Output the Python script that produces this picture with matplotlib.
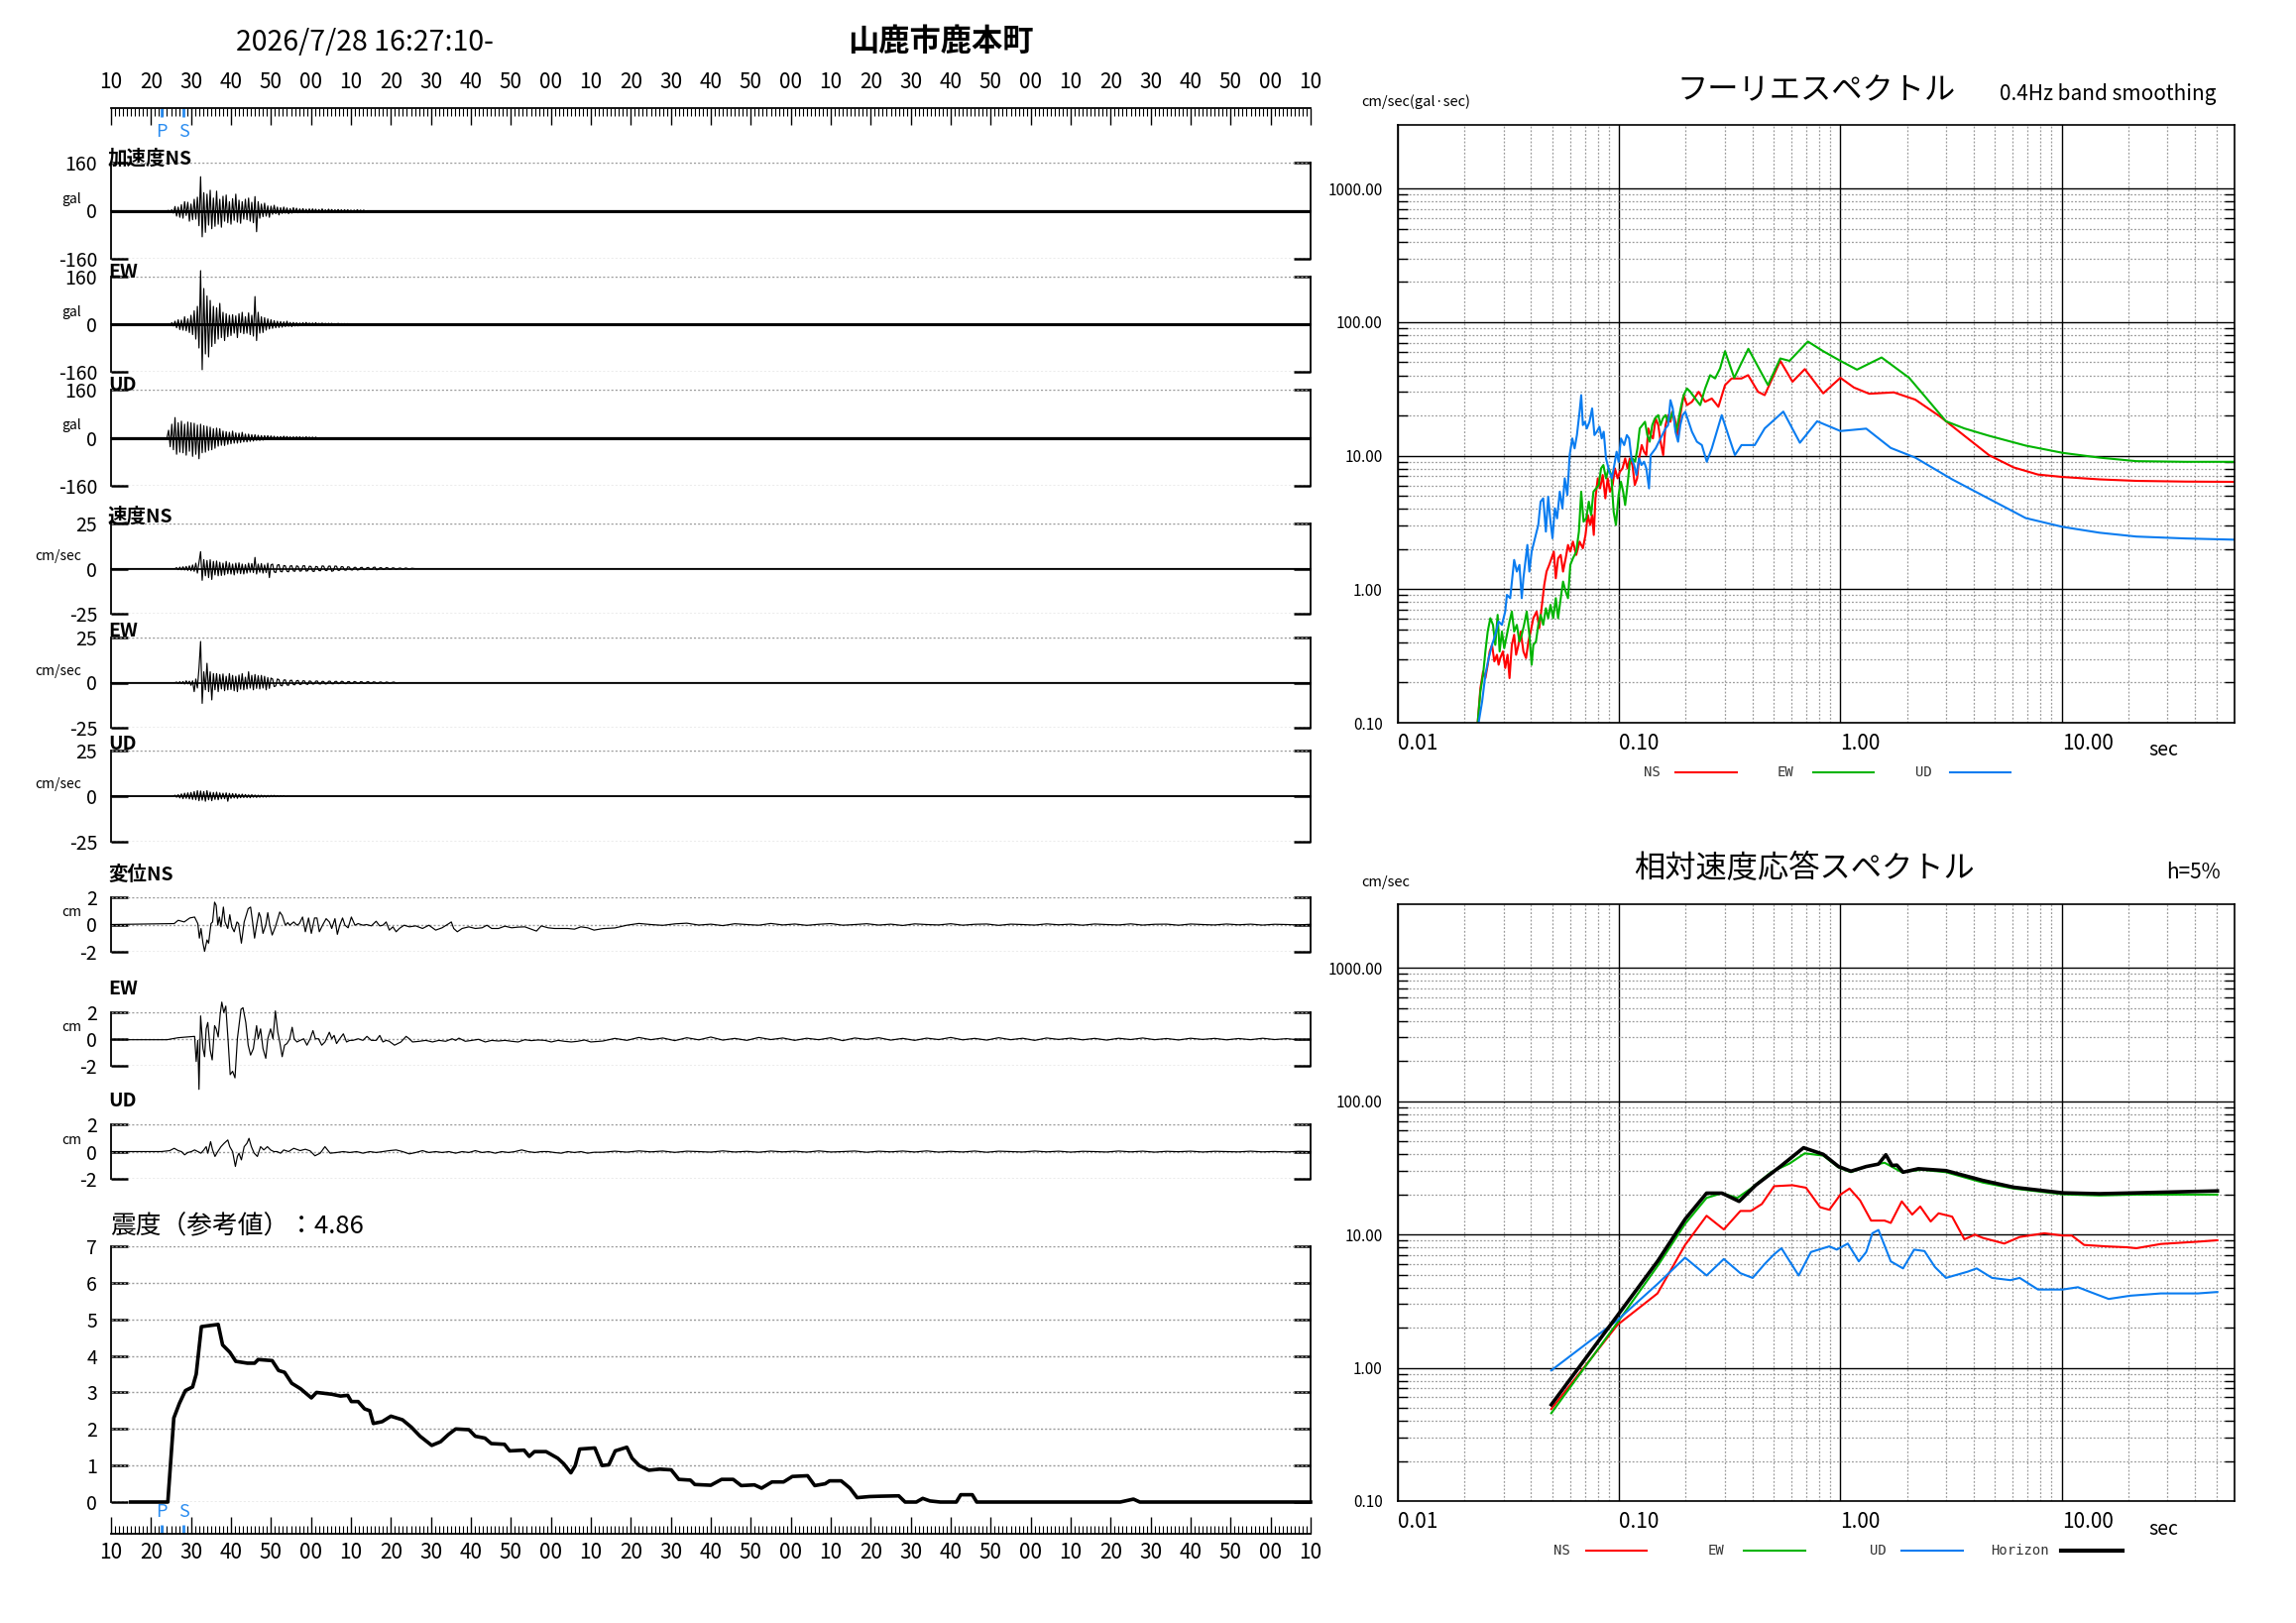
import numpy as np
import matplotlib
matplotlib.use("Agg")
import matplotlib.pyplot as plt
from matplotlib.lines import Line2D
from matplotlib.ticker import MultipleLocator, FuncFormatter, FixedLocator, NullFormatter

plt.rcParams['font.family'] = ['Noto Sans CJK JP', 'DejaVu Sans']

W, H = 2316, 1637

# ---------------- data ----------------
date_text = "2026/7/28 16:27:10-"
station = "山鹿市鹿本町"
start_sec = 10          # 16:27:10
p_time, s_time = 12.7, 18.2
shindo = 4.86

# acceleration (gal), sampled every 0.4 s from t0
acc_t0, acc_dt = 14.0, 0.4
acc_ns = [0, 1, -2, 3, -8, 14, -18, 12, -22, 20, -25, 30, -16, 28, -35,
          22, -30, 38, -28, 45, -50, 113, -87, 60, -72, 55, -48, 68, -60, 42,
          -52, 65, -45, 38, -55, 48, -35, 52, -40, 30, -45, 40, -32, 55, -38,
          35, -42, 30, -28, 38, -30, 42, -35, 28, -40, 47, -70, 30, -25, 22,
          -20, 25, -18, 16, -22, 15, -12, 18, -10, 12, -14, 10, -9, 12, -8,
          9, -10, 7, -8, 10, -6, 8, -7, 6, -5, 7, -6, 5, -7, 6,
          -5, 6, -4, 5, -6, 4, -5, 6, -4, 3, -4, 5, -3, 4, -4,
          3, -3, 4, -3, 3, -3, 3, -2, 3, -2, 2, -3, 2, -2, 3,
          -2, 2, -2, 2, -2]
acc_ew = [0, 2, -3, 5, -6, 10, -12, 15, -18, 14, -20, 25, -22, 18, -28,
          30, -35, 45, -50, 60, -80, 180, -153, 120, -100, 95, -110, 80, -75, 60,
          -65, 55, -50, 70, -45, 40, -55, 35, -42, 30, -38, 32, -30, 28, -45,
          35, -28, 40, -32, 25, -30, 38, -35, 30, -40, 93, -55, 40, -30, 25,
          -28, 22, -20, 18, -16, 15, -14, 12, -12, 10, -11, 9, -10, 8, -8,
          10, -7, 6, -8, 6, -6, 5, -6, 4, -5, 5, -4, 6, -4, 4,
          -4, 4, -3, 5, -3, 3, -3, 4, -3, 3, -3, 3, -2, 3, -2,
          2, -2, 3, -2, 2, -2, 2, -2, 2, -2]
acc_ud = [0, 25, -30, 45, -40, 67, -55, 50, -48, 55, -50, 45, -58, 52, -45,
          50, -62, 48, -55, 42, -70, 45, -50, 40, -48, 38, -42, 35, -40, 30,
          -35, 32, -28, 30, -25, 22, -26, 20, -22, 18, -20, 22, -18, 16, -18,
          15, -16, 18, -14, 12, -14, 12, -12, 10, -11, 10, -9, 8, -9, 7,
          -8, 7, -6, 7, -6, 6, -5, 5, -6, 4, -5, 4, -4, 5, -3,
          4, -3, 3, -4, 3, -3, 3, -2, 3, -2, 2, -2, 3, -2, 2,
          -2, 2, -2, 2, -2]

# velocity (cm/sec), sampled every 0.4 s from t0
vel_t0, vel_dt = 16.0, 0.4
vel_ns = [0, 0.5, -0.6, 0.8, -0.7, 1.0, -0.8, 1.2, -1.0, 1.5,
          -1.2, 2.0, -1.5, 3.0, -2.5, 3.5, 9.4, -6.5, 5.0, -4.0,
          4.5, -5.0, 4.9, -6.0, 4.0, -3.5, 4.2, -4.0, 3.5, -3.8,
          3.0, -3.5, 4.0, -2.8, 3.2, -3.0, 2.5, -3.5, 3.0, -2.5,
          3.2, -2.8, 2.5, -3.0, 2.2, -2.5, 3.0, -2.0, 2.8, -2.2,
          6.2, -3.0, 2.5, -2.0, 2.8, -2.5, 2.0, -2.2, 3.0, -5.0,
          2.0, 2.5, -1.8, -2.2, 1.9, 2.2, -1.6, -1.8, 1.7, 1.5,
          -1.5, -1.8, 1.4, 1.6, -1.3, -1.5, 1.5, 1.2, -1.4, -1.3,
          1.5, 1.6, -1.4, -1.2, 1.3, 1.2, -1.4, -1.6, 1.2, 1.0,
          -1.1, -1.2, 1.5, 1.3, -1.0, -1.1, 1.3, 1.4, -1.5, -1.2,
          1.4, 1.3, -1.0, -0.9, 1.1, 1.0, -0.8, -0.9, 1.0, 0.8,
          -0.7, -0.8, 0.6, 0.7, -0.8, -0.6, 0.5, 0.7, -0.6, -0.5,
          0.5, 0.6, -0.4, -0.5, 0.6, 0.8, -0.7, -0.5, 0.4, 0.5,
          -0.4, -0.3, 0.5, 0.4, -0.3, -0.3, 0.4, 0.3, -0.3, -0.2,
          0.2, 0.3, -0.2, -0.2, 0.3, 0.2, -0.2, -0.2, 0.2, 0.1]
vel_ew = [0, 0.3, -0.4, 0.5, -0.5, 0.6, -0.8, 1.0, -0.7, 0.8,
          -1.5, 1.0, -5.0, 2.0, -3.0, 8.0, 22.8, -11.5, 6.0, -4.0,
          10.7, -5.0, 6.0, -9.6, 5.0, -4.0, 5.0, -5.0, 4.5, -3.5,
          4.8, -4.5, 3.5, -4.0, 5.0, -3.8, 4.0, -4.5, 3.5, -5.0,
          4.2, -3.6, 5.0, -4.0, 3.0, -3.5, 6.0, -3.0, 4.0, -4.0,
          4.5, -3.2, 3.8, -3.5, 4.0, -3.0, 3.5, -4.0, 2.8, -3.2,
          2.5, 2.0, -2.2, -1.8, 2.0, 1.6, -1.5, -1.8, 1.4, 1.5,
          -1.3, -1.5, 1.2, 1.3, -1.1, -1.2, 1.0, 1.2, -1.0, -0.9,
          1.0, 0.9, -0.8, -1.0, 0.9, 0.7, -0.8, -0.7, 0.8, 0.9,
          -0.7, -0.8, 0.7, 0.6, -0.8, -0.6, 0.7, 0.8, -0.6, -0.7,
          0.6, 0.7, -0.6, -0.5, 0.7, 0.6, -0.5, -0.6, 0.5, 0.6,
          -0.5, -0.5, 0.6, 0.4, -0.4, -0.5, 0.5, 0.4, -0.4, -0.4,
          0.4, 0.5, -0.4, -0.3, 0.4, 0.3, -0.3, -0.4, 0.3, 0.3,
          -0.3, -0.3, 0.3, 0.2, -0.3, -0.2, 0.2, 0.3, -0.2, -0.2]
vel_ud = [0.5, -0.6, 0.8, -1.0, 1.2, -1.4, 1.6, -1.2, 1.8, -1.5,
          2.0, -1.8, 2.5, -2.0, 3.0, -2.5, 2.8, -2.2, 2.5, -2.8,
          3.0, -2.0, 2.2, -2.5, 2.0, -1.8, 2.2, -2.0, 1.8, -1.5,
          1.6, -1.4, 1.8, -2.8, 1.5, -1.2, 1.4, -1.0, 1.3, -1.2,
          1.0, -0.9, 1.1, -0.8, 0.9, -0.8, 0.7, -0.9, 0.8, -0.6,
          0.6, -0.7, 0.5, -0.6, 0.5, -0.5, 0.4, -0.5, 0.4, -0.4,
          0.4, -0.3, 0.4, -0.3, 0.3, -0.3, 0.3, -0.2, 0.3, -0.2]

# displacement (cm): read points up to ~121 s, then a tail every 3 s
disp_ns_t = [0, 15.8, 16.8, 18.3, 19.7, 20.9, 21.7, 22.1, 22.5, 23.0, 23.4, 24.0, 24.4, 25.0, 25.4,
             25.9, 26.3, 26.7, 27.1, 27.5, 28.1, 28.5, 29.2, 29.7, 30.2, 30.8, 31.5, 31.9, 32.6, 33.3,
             34.3, 34.9, 35.4, 35.9, 36.4, 37.0, 37.4, 38.0, 38.7, 39.2, 39.7, 40.3, 41.1, 42.2, 42.8,
             43.6, 44.2, 44.7, 45.7, 46.5, 47.1, 47.9, 48.6, 49.4, 50.1, 50.9, 51.5, 52.1, 52.9, 53.8,
             54.6, 55.2, 56.0, 56.6, 57.2, 57.9, 58.5, 59.3, 60.1, 61.0, 61.8, 63.0, 63.9, 65.1, 66.3,
             67.2, 68.0, 68.8, 69.6, 70.5, 71.3, 72.1, 73.3, 74.6, 76.2, 77.9, 79.5, 81.2, 82.8, 84.5,
             85.1, 85.7, 86.6, 87.8, 89.5, 91.1, 92.8, 94.0, 95.2, 96.9, 98.5, 100.2, 101.8, 103.5, 105.1,
             106.4, 107.6, 109.3, 110.9, 112.6, 114.2, 115.9, 117.5, 119.2, 120.8]
disp_ns = [0, 0.07, 0.31, 0.19, 0.48, 0.55, 0.07, -1.0, -0.29, -1.37, -1.97, -1.13, -1.37, 0.07, 0.19,
           1.64, 1.40, -0.05, 0.55, -0.17, 1.28, 0.19, -0.29, 0.72, -0.17, -0.53, 0.19, 0.07, -1.37, 0.19,
           1.16, 1.28, 0.19, -1.0, -0.05, 0.87, 0.55, -0.65, -0.05, 0.87, -0.05, -0.77, -0.17, 0.92, 0.67,
           -0.05, 0.14, -0.05, 0.19, -0.05, 0.07, 0.55, -0.53, 0.48, -0.65, 0.48, 0.48, -0.53, -0.05, 0.43,
           0.19, -0.29, 0.43, -0.72, -0.05, 0.48, -0.05, -0.24, 0.55, -0.05, 0.07, -0.05, 0.0, -0.10, 0.24,
           -0.10, -0.05, 0.19, -0.41, -0.17, -0.53, -0.29, -0.05, -0.17, -0.10, -0.29, -0.05, -0.41, -0.24, 0.07,
           0.19, -0.29, -0.53, -0.29, -0.17, -0.29, -0.24, -0.05, -0.29, -0.29, -0.12, -0.24, -0.19, -0.17, -0.34,
           -0.48, -0.10, -0.24, -0.29, -0.29, -0.29, -0.34, -0.17, -0.24, -0.41]
disp_ew_t = [0, 14.0, 16.8, 19.0, 20.9, 21.3, 21.7, 22.0, 22.4, 23.0, 23.4, 23.8, 24.2, 24.8, 25.3,
             25.9, 26.3, 26.8, 27.3, 27.7, 28.2, 28.7, 29.3, 29.8, 30.4, 31.0, 31.6, 32.5, 33.0, 33.7,
             34.3, 34.9, 35.6, 36.4, 36.8, 37.4, 38.0, 38.7, 39.2, 39.9, 40.5, 41.1, 41.7, 42.2, 42.8,
             43.4, 44.0, 44.7, 45.3, 45.8, 46.5, 47.3, 48.2, 49.0, 49.8, 50.5, 51.1, 51.9, 52.7, 53.5,
             54.6, 55.2, 55.8, 56.4, 57.2, 58.1, 58.9, 59.7, 60.5, 61.8, 63.0, 64.0, 65.1, 66.3, 67.2,
             68.0, 68.8, 69.6, 70.9, 71.7, 72.5, 73.8, 74.6, 75.4, 77.1, 78.7, 80.4, 82.0, 83.7, 85.3,
             86.2, 87.0, 88.6, 90.3, 91.9, 93.6, 95.2, 96.9, 98.5, 100.2, 101.8, 103.5, 105.1, 106.8, 108.5,
             110.1, 111.8, 113.4, 115.1, 116.7, 118.4, 120.0]
disp_ew = [-0.05, -0.05, 0.1, 0.15, 0.2, -1.68, -0.1, -3.76, 1.73, -0.71, -1.32, 0.76, 1.24, -0.83, -1.56,
           1.0, 0.76, 0.15, 1.85, 2.76, 1.98, 2.46, -0.22, -2.66, -2.41, -2.9, 0.02, 2.22, 2.34, 1.24,
           -0.46, -1.2, -0.71, 1.0, 0.02, 0.76, -0.71, -1.44, 0.02, 0.76, 0.02, 2.1, 0.51, -0.22, -1.32,
           -0.46, -0.34, 0.02, 0.88, 0.02, -0.22, -0.1, 0.02, -0.46, 0.02, 0.63, 0.02, 0.02, -0.46, -0.22,
           0.51, 0.02, 0.27, -0.34, 0.02, 0.39, -0.22, -0.1, -0.1, 0.02, -0.1, 0.2, -0.1, -0.1, 0.27,
           -0.22, -0.1, -0.17, -0.46, -0.34, -0.22, 0.2, 0.02, -0.22, -0.17, -0.1, -0.22, -0.1, -0.17, 0.02,
           -0.1, 0.07, -0.17, -0.1, -0.02, -0.22, -0.1, -0.15, -0.1, -0.17, -0.22, -0.05, -0.12, -0.07, -0.1,
           -0.22, -0.1, -0.17, -0.22, -0.17, -0.07, -0.22]
disp_ud_t = [0, 12.6, 14.7, 15.8, 16.8, 17.6, 18.4, 19.2, 20.1, 20.9, 21.7, 22.5, 23.2, 23.8, 24.2,
             24.9, 25.4, 26.0, 26.7, 27.5, 28.3, 29.2, 29.7, 30.4, 31.1, 31.6, 32.0, 32.6, 33.3, 34.0,
             34.5, 35.1, 35.8, 36.6, 37.4, 38.2, 39.1, 39.9, 40.7, 41.5, 42.4, 43.2, 44.4, 45.7, 47.3,
             48.6, 49.8, 51.0, 52.3, 53.5, 54.8, 56.4, 58.1, 59.7, 61.4, 63.0, 64.7, 66.3, 68.0, 69.6,
             71.3, 72.9, 74.6, 76.2, 77.9, 79.5, 81.2, 82.8, 84.5, 86.2, 87.8, 89.5, 91.1, 92.8, 94.4,
             96.1, 97.7, 99.4, 101.0, 102.7, 104.3, 106.0, 107.6, 109.3, 110.9, 112.6, 114.2, 115.9, 117.5, 119.2,
             120.8]
disp_ud = [0, 0, 0.07, 0.24, 0.07, 0, -0.24, -0.07, 0, 0.12, 0, -0.12, 0.12, 0.36, -0.12,
           0.73, 0.12, -0.36, 0, 0.36, 0.61, 0.85, 0.36, 0, -1.09, -0.36, -0.12, -0.61, 0.36, 0.61,
           0.97, 0.36, -0.12, -0.36, 0.36, 0.12, 0.36, 0.12, 0, 0, -0.12, 0.12, 0, 0.24, 0.07,
           0.17, 0.05, -0.31, -0.12, 0.36, -0.12, -0.07, 0, -0.07, 0, -0.12, 0, -0.07, 0, 0.07,
           0.12, 0, -0.17, -0.07, 0.07, -0.07, 0, -0.07, 0, -0.12, 0, -0.07, 0.07, -0.07, 0,
           -0.12, 0, -0.07, 0, 0.12, 0, -0.07, 0, 0, -0.07, -0.12, 0, -0.07, 0, -0.12,
           -0.05]
tail_t0, tail_dt = 123.0, 3.0
disp_ns_tail = [-0.30, -0.25, -0.05, 0.08, 0.00, -0.06, 0.05, 0.10, -0.04, 0.03,
                -0.08, 0.06, 0.00, -0.05, 0.08, -0.03, 0.04, -0.06, 0.02, 0.07,
                -0.05, 0.00, 0.06, -0.04, 0.03, -0.07, 0.05, 0.00, -0.03, 0.06,
                -0.05, 0.02, 0.04, -0.06, 0.03, 0.00, -0.04, 0.05, -0.02, 0.03,
                -0.05, 0.04, 0.00, -0.03, 0.05, -0.04, 0.02, 0.03, -0.05, 0.04,
                0.00, -0.03, 0.04, -0.02, 0.03, -0.04, 0.02, 0.00, -0.03, 0.02]
disp_ew_tail = [-0.15, 0.05, -0.10, 0.12, -0.05, 0.08, -0.12, 0.10, -0.06, 0.15,
                -0.08, 0.05, -0.10, 0.12, -0.04, 0.08, -0.10, 0.06, -0.05, 0.10,
                -0.12, 0.08, -0.03, 0.10, -0.08, 0.05, -0.10, 0.07, -0.04, 0.12,
                -0.06, 0.05, -0.08, 0.10, -0.05, 0.06, -0.10, 0.08, -0.03, 0.07,
                -0.06, 0.05, -0.08, 0.06, -0.04, 0.08, -0.05, 0.04, -0.07, 0.06,
                -0.03, 0.05, -0.06, 0.04, -0.05, 0.06, -0.04, 0.03, -0.06, -0.05]
disp_ud_tail = [-0.05, 0.03, -0.04, 0.05, -0.02, 0.04, -0.06, 0.03, 0.00, -0.04,
                0.05, -0.03, 0.02, -0.05, 0.04, -0.02, 0.03, -0.04, 0.05, -0.03,
                0.00, 0.04, -0.05, 0.03, -0.02, 0.04, -0.03, 0.05, -0.04, 0.02,
                -0.03, 0.04, -0.05, 0.03, 0.00, -0.03, 0.04, -0.02, 0.03, -0.04,
                0.02, 0.00, -0.03, 0.04, -0.02, 0.03, -0.04, 0.02, -0.01, 0.03,
                -0.03, 0.02, 0.00, -0.02, 0.03, -0.02, 0.01, -0.03, 0.02, 0.00]

# seismic intensity (reference value) over time
int_t = [4.9, 14.2, 15.7, 17.1, 18.6, 20.4, 21.3, 22.6, 26.8, 27.9, 29.7, 31.2, 34.1, 35.9, 36.8,
         40.3, 41.9, 43.4, 45.2, 47.4, 50.1, 51.4, 55.2, 57.4, 59.2, 60.1, 61.8, 63.4, 64.7, 65.6,
         67.8, 70.0, 72.9, 75.1, 77.3, 80.2, 82.4, 84.4, 86.2, 89.5, 91.1, 93.5, 95.1, 98.4, 99.7,
         103.3, 104.6, 105.9, 108.8, 111.7, 113.2, 115.0, 116.1, 117.2, 121.0, 122.8, 124.5, 126.1, 129.0, 130.3,
         132.1, 134.5, 137.2, 140.1, 142.0, 144.9, 146.0, 150.0, 152.7, 155.6, 157.6, 160.9, 162.7, 165.3, 168.2,
         170.4, 174.2, 176.0, 178.6, 179.7, 182.6, 184.8, 186.6, 189.7, 192.6, 197.0, 198.6, 201.4, 203.0, 204.8,
         207.4, 211.4, 212.5, 215.4, 216.5, 252.4, 255.7, 257.3, 300.0]
int_v = [0, 0, 2.3, 2.7, 3.05, 3.15, 3.5, 4.8, 4.86, 4.3, 4.1, 3.85, 3.8, 3.8, 3.9,
         3.87, 3.6, 3.55, 3.25, 3.1, 2.85, 3.0, 2.95, 2.9, 2.92, 2.75, 2.75, 2.55, 2.5, 2.15,
         2.2, 2.35, 2.25, 2.05, 1.8, 1.55, 1.65, 1.85, 2.0, 1.98, 1.8, 1.75, 1.6, 1.58, 1.4,
         1.42, 1.25, 1.38, 1.38, 1.2, 1.05, 0.8, 1.0, 1.45, 1.48, 1.0, 1.02, 1.4, 1.5, 1.2,
         1.0, 0.87, 0.9, 0.88, 0.62, 0.6, 0.48, 0.46, 0.62, 0.62, 0.45, 0.47, 0.38, 0.55, 0.55,
         0.7, 0.72, 0.45, 0.5, 0.58, 0.58, 0.38, 0.12, 0.15, 0.16, 0.17, 0.0, 0.0, 0.1, 0.03,
         0.0, 0.0, 0.2, 0.2, 0.0, 0.0, 0.08, 0.0, 0.0]

# Fourier spectra: period (sec) and amplitude (cm/sec)
four_ns_T = [0.02298, 0.02362, 0.02428, 0.02487, 0.02548, 0.02601, 0.02665, 0.02730, 0.02805, 0.02854,
             0.02903, 0.02985, 0.03057, 0.03132, 0.03197, 0.03275, 0.03355, 0.03424, 0.03508, 0.03593,
             0.03694, 0.03797, 0.03890, 0.03984, 0.04096, 0.04239, 0.04357, 0.04463, 0.04588, 0.04699,
             0.04831, 0.04948, 0.05069, 0.05174, 0.05300, 0.05447, 0.05580, 0.05735, 0.05875, 0.06018,
             0.06186, 0.06402, 0.06627, 0.06859, 0.07049, 0.07221, 0.07397, 0.07552, 0.07683, 0.07816,
             0.08007, 0.08201, 0.08431, 0.08665, 0.08877, 0.09092, 0.09347, 0.09574, 0.09842, 0.1008,
             0.1036, 0.1065, 0.1091, 0.1118, 0.1149, 0.1177, 0.1206, 0.1231, 0.1265, 0.1296,
             0.1327, 0.1355, 0.1388, 0.1422, 0.1462, 0.1503, 0.1539, 0.1582, 0.1621, 0.1665,
             0.1706, 0.1736, 0.1784, 0.1840, 0.1891, 0.1957, 0.2026, 0.2134, 0.2286, 0.2447,
             0.2623, 0.2810, 0.3010, 0.3224, 0.3573, 0.3828, 0.4244, 0.4547, 0.5348, 0.6075,
             0.6904, 0.8363, 1.000, 1.151, 1.350, 1.743, 2.180, 2.814, 3.634, 4.692,
             6.056, 7.82, 10.10, 14.82, 21.73, 36.2, 60.4]
four_ns_A = [0.102, 0.182, 0.242, 0.216, 0.272, 0.342, 0.383, 0.288, 0.323, 0.272,
             0.305, 0.342, 0.257, 0.323, 0.216, 0.383, 0.456, 0.323, 0.383, 0.482,
             0.342, 0.305, 0.406, 0.482, 0.607, 0.681, 0.511, 0.721, 1.077, 1.356,
             1.521, 1.705, 1.913, 1.208, 1.705, 1.806, 1.356, 1.705, 2.146, 1.913,
             2.273, 1.806, 2.273, 2.026, 2.55, 3.597, 3.028, 3.597, 2.55, 4.794,
             6.765, 5.694, 7.166, 4.794, 6.765, 5.377, 6.031, 8.035, 6.765, 7.589,
             8.035, 9.546, 8.035, 9.546, 8.51, 6.031, 6.765, 9.546, 12.01, 10.71,
             10.11, 16.0, 14.27, 13.47, 19.01, 16.95, 12.72, 10.11, 16.95, 20.13,
             17.95, 21.32, 19.01, 14.27, 20.13, 28.41, 23.92, 25.33, 30.09, 25.33,
             26.8, 23.24, 33.76, 37.86, 37.86, 40.1, 30.09, 28.41, 51.3, 35.8,
             44.5, 29.3, 38.3, 32.4, 29.1, 29.8, 26.3, 19.7, 14.1, 10.1,
             8.18, 7.22, 6.93, 6.65, 6.48, 6.40, 6.37]
four_ew_T = [0.02298, 0.02362, 0.02428, 0.02487, 0.02548, 0.02618, 0.02692, 0.02757, 0.02825, 0.02884,
             0.02954, 0.03026, 0.03111, 0.03197, 0.03275, 0.03355, 0.03449, 0.03545, 0.03631, 0.03719,
             0.03824, 0.03930, 0.04025, 0.04096, 0.04210, 0.04312, 0.04417, 0.04540, 0.04667, 0.04781,
             0.04897, 0.05035, 0.05174, 0.05300, 0.05447, 0.05580, 0.05735, 0.05875, 0.06018, 0.06186,
             0.06402, 0.06581, 0.06741, 0.06907, 0.07101, 0.07296, 0.07474, 0.07656, 0.07873, 0.08091,
             0.08287, 0.08489, 0.08725, 0.08969, 0.0922, 0.09445, 0.09674, 0.09945, 0.1019, 0.1043,
             0.1065, 0.1091, 0.1118, 0.1149, 0.1181, 0.1210, 0.1239, 0.1274, 0.1309, 0.1341,
             0.1374, 0.1412, 0.1451, 0.1503, 0.1539, 0.1576, 0.1621, 0.1665, 0.1706, 0.1748,
             0.1809, 0.1859, 0.1911, 0.1957, 0.2026, 0.2098, 0.2208, 0.2325, 0.2447, 0.2578,
             0.2715, 0.2858, 0.3010, 0.3312, 0.3837, 0.4707, 0.5348, 0.5887, 0.7129, 0.8363,
             1.000, 1.188, 1.535, 2.045, 3.000, 3.634, 4.692, 6.88, 10.10, 14.82,
             21.73, 36.2, 60.4]
four_ew_A = [0.102, 0.172, 0.229, 0.342, 0.482, 0.607, 0.541, 0.383, 0.643, 0.342,
             0.482, 0.362, 0.456, 0.573, 0.681, 0.482, 0.541, 0.406, 0.456, 0.541,
             0.681, 0.456, 0.272, 0.383, 0.406, 0.541, 0.643, 0.541, 0.721, 0.607,
             0.764, 0.607, 0.857, 0.607, 0.857, 1.141, 0.961, 0.857, 1.521, 1.705,
             1.913, 2.701, 5.377, 3.207, 3.396, 4.525, 3.597, 5.377, 5.694, 6.031,
             8.035, 8.51, 6.765, 8.035, 7.166, 3.809, 3.028, 5.077, 6.388, 5.377,
             4.273, 6.031, 9.014, 9.546, 9.014, 11.34, 16.0, 16.95, 17.95, 14.27,
             12.72, 16.95, 19.01, 20.13, 16.95, 19.01, 20.13, 17.95, 19.01, 21.32,
             15.11, 19.01, 23.92, 28.41, 31.87, 30.09, 26.8, 23.92, 31.87, 40.1,
             37.9, 45.0, 60.6, 38.3, 63.2, 33.8, 53.5, 51.3, 71.6, 60.6,
             51.3, 44.1, 54.4, 38.3, 18.1, 16.0, 14.1, 11.9, 10.5, 9.67,
             9.1, 9.0, 9.0]
four_ud_T = [0.02322, 0.02404, 0.02487, 0.02574, 0.02665, 0.02757, 0.02854, 0.02954, 0.03057, 0.03111,
             0.03219, 0.03355, 0.03449, 0.03545, 0.03631, 0.03694, 0.03849, 0.03930, 0.04025, 0.04166,
             0.04312, 0.04417, 0.04540, 0.04667, 0.04781, 0.04897, 0.05000, 0.05122, 0.05246, 0.05393,
             0.05543, 0.05679, 0.05836, 0.05977, 0.06144, 0.06293, 0.06447, 0.06627, 0.06741, 0.06859,
             0.07002, 0.07147, 0.07346, 0.07552, 0.07736, 0.07925, 0.08147, 0.08344, 0.08519, 0.08725,
             0.09031, 0.09283, 0.09511, 0.09741, 0.09945, 0.1019, 0.1054, 0.1084, 0.1110, 0.1137,
             0.1169, 0.1197, 0.1231, 0.1261, 0.1296, 0.1327, 0.1365, 0.1388, 0.1462, 0.1539,
             0.1621, 0.1665, 0.1706, 0.1748, 0.1797, 0.1847, 0.1891, 0.1938, 0.1991, 0.2134,
             0.2247, 0.2365, 0.2490, 0.2623, 0.2908, 0.3114, 0.3337, 0.3573, 0.4101, 0.4547,
             0.5521, 0.6561, 0.7847, 1.000, 1.308, 1.689, 2.180, 3.198, 4.692, 6.88,
             10.10, 14.82, 21.73, 36.2, 60.4]
four_ud_A = [0.102, 0.144, 0.229, 0.305, 0.383, 0.456, 0.573, 0.541, 0.681, 0.907,
             0.857, 1.657, 1.356, 1.521, 0.857, 1.208, 2.146, 1.356, 1.913, 2.407,
             3.028, 4.525, 4.794, 2.701, 4.93, 3.207, 2.407, 4.035, 3.396, 5.377,
             4.035, 6.765, 5.077, 10.11, 13.47, 11.34, 14.27, 21.32, 28.41, 16.95,
             17.95, 16.0, 17.95, 22.59, 14.27, 15.11, 16.47, 13.47, 15.11, 9.55,
             7.59, 6.77, 8.51, 10.71, 9.01, 13.47, 12.01, 14.27, 13.47, 9.55,
             8.51, 7.17, 9.55, 8.51, 9.01, 8.04, 5.69, 10.11, 11.34, 13.47,
             16.0, 16.95, 26.07, 22.59, 15.11, 12.72, 16.95, 20.13, 21.32, 15.11,
             12.72, 12.01, 9.01, 11.34, 20.13, 14.27, 10.11, 12.01, 12.01, 16.0,
             21.4, 12.5, 18.1, 15.3, 15.95, 11.43, 9.67, 6.65, 4.76, 3.41,
             2.93, 2.65, 2.48, 2.40, 2.35]

# relative velocity response spectra (h=5%)
resp_ns_T = [0.04937, 0.0984, 0.1491, 0.1987, 0.2485, 0.2972, 0.3532, 0.3936, 0.4415, 0.5015,
             0.6075, 0.6993, 0.8098, 0.8913, 1.0, 1.100, 1.227, 1.376, 1.584, 1.689,
             1.894, 2.111, 2.294, 2.558, 2.779, 3.198, 3.634, 4.051, 4.401, 5.505,
             6.457, 8.34, 10.10, 11.11, 12.63, 15.79, 19.74, 21.73, 28.05, 41.15, 50.5]
resp_ns_A = [0.49, 2.10, 3.61, 8.34, 13.8, 10.9, 15.0, 15.0, 16.9, 23.0,
             23.4, 22.4, 16.0, 15.3, 19.9, 22.1, 18.0, 12.7, 12.7, 12.2,
             17.7, 14.1, 16.2, 12.5, 14.4, 13.6, 9.19, 9.97, 9.42, 8.54,
             9.57, 10.2, 9.81, 9.81, 8.34, 8.14, 8.01, 7.88, 8.48, 8.82, 9.04]
resp_ew_T = [0.04937, 0.0984, 0.1491, 0.1987, 0.2485, 0.2915, 0.3420, 0.3936, 0.4859, 0.5887,
             0.6904, 0.8363, 0.9810, 1.115, 1.308, 1.584, 1.894, 2.324, 3.000, 4.401,
             6.056, 10.10, 14.82, 21.73, 50.5]
resp_ew_A = [0.456, 2.19, 5.79, 12.0, 18.8, 20.4, 18.8, 22.1, 29.3, 34.0,
             40.6, 39.0, 31.8, 29.3, 32.3, 34.5, 29.3, 30.6, 29.3, 24.5,
             22.1, 20.0, 19.6, 19.9, 19.9]
resp_ud_T = [0.04937, 0.0984, 0.1491, 0.1987, 0.2485, 0.2972, 0.3532, 0.4012, 0.4559, 0.5015,
             0.5415, 0.6477, 0.7359, 0.8913, 0.9625, 1.080, 1.211, 1.308, 1.394, 1.486,
             1.689, 1.919, 2.153, 2.399, 2.675, 3.000, 3.752, 4.129, 4.844, 5.865,
             6.457, 7.82, 10.10, 11.84, 13.46, 16.30, 20.38, 28.05, 41.15, 50.5]
resp_ud_A = [0.955, 2.28, 4.25, 6.70, 4.92, 6.54, 5.12, 4.72, 6.03, 7.09,
             7.88, 4.92, 7.38, 8.14, 7.69, 8.54, 6.28, 7.38, 10.2, 10.8,
             6.28, 5.56, 7.69, 7.50, 5.69, 4.72, 5.25, 5.56, 4.72, 4.54,
             4.72, 3.86, 3.86, 4.02, 3.70, 3.28, 3.47, 3.61, 3.61, 3.70]
resp_h_T = [0.04937, 0.0984, 0.1491, 0.1987, 0.2485, 0.2915, 0.3487, 0.4143, 0.5348, 0.6817,
            0.8363, 0.9810, 1.115, 1.308, 1.486, 1.605, 1.710, 1.800, 1.919, 2.251,
            3.000, 4.401, 6.056, 10.10, 14.82, 21.73, 50.5]
resp_h_A = [0.528, 2.47, 6.28, 13.0, 20.4, 20.4, 17.7, 23.4, 32.3, 44.7,
            39.9, 32.3, 29.8, 32.3, 33.7, 39.6, 32.9, 33.1, 29.3, 31.1,
            30.1, 25.4, 22.6, 20.5, 20.2, 20.5, 21.2]

RED, GREEN, BLUE, PSBLUE = '#ff0000', '#00b400', '#0a7cf0', '#2a8cf0'
GRID = '#9a9a9a'
DOT = (0, (1.5, 1.5))

# ---------------- helpers ----------------
fig = plt.figure(figsize=(W / 100, H / 100), dpi=100)


def box(x0, y0, x1, y1):
    return [x0 / W, 1 - y1 / H, (x1 - x0) / W, (y1 - y0) / H]


def ftext(x, y, s, **kw):
    kw.setdefault('va', 'center')
    return fig.text(x / W, 1 - y / H, s, **kw)


def uniform(t0, dt, vals):
    v = np.asarray(vals, float)
    t = t0 + dt * np.arange(len(v))
    return np.r_[0, t0 - dt, t, t[-1] + dt, 300], np.r_[0, 0, v, 0, 0]


def wave(y0, y1, lim, t, v, name, name_y, unit, base_lw=None):
    ax = fig.add_axes(box(112, y0, 1322, y1))
    ax.set_xlim(0, 300)
    ax.set_ylim(-lim, lim)
    ax.axhline(lim, color=GRID, ls=DOT, lw=1)
    ax.axhline(-lim, color=GRID, ls=DOT, lw=1)
    if base_lw:
        ax.axhline(0, color='k', lw=base_lw)
    else:
        ax.axhline(0, color=GRID, ls=DOT, lw=1)
    ax.plot(t, v, color='k', lw=0.85, clip_on=False)
    for s in ('top', 'bottom'):
        ax.spines[s].set_visible(False)
    for s in ('left', 'right'):
        ax.spines[s].set_linewidth(1.3)
    ax.set_xticks([])
    ax.set_yticks([-lim, 0, lim])
    ax.set_yticklabels([str(-lim), '0', str(lim)])
    ax.tick_params(axis='y', direction='in', length=12, width=1.8,
                   left=True, right=True, labelsize=14, pad=10)
    ftext(109, name_y, name, ha='left', fontsize=14, fontweight='bold')
    zero_y = (y0 + y1) / 2
    ftext(82, zero_y - 12, unit, ha='right', fontsize=10)
    return ax


def time_axis(y0, y1, top):
    ax = fig.add_axes(box(112, y0, 1322, y1))
    ax.set_xlim(0, 300)
    ax.set_ylim(0, 1)
    ax.patch.set_visible(False)
    for s in ('top', 'bottom', 'left', 'right'):
        ax.spines[s].set_visible(False)
    edge = 'top' if top else 'bottom'
    ax.spines[edge].set_visible(True)
    ax.spines[edge].set_linewidth(1.3)
    ax.xaxis.set_major_locator(MultipleLocator(10))
    ax.xaxis.set_minor_locator(MultipleLocator(1))
    ax.xaxis.set_major_formatter(
        FuncFormatter(lambda x, pos: f"{int(round(x + start_sec)) % 60:02d}"))
    ax.tick_params(axis='x', which='both', direction='in', top=top, bottom=not top,
                   labeltop=top, labelbottom=not top)
    ax.tick_params(axis='x', which='major', length=12, width=1.0, labelsize=15,
                   pad=11 if top else 6)
    ax.tick_params(axis='x', which='minor', length=5.5, width=0.8)
    ax.set_yticks([])
    if top:
        ax.vlines([p_time, s_time], 0.55, 1.0, color=PSBLUE, lw=2)
        ty = -0.12
    else:
        ax.vlines([p_time, s_time], 0.0, 0.45, color=PSBLUE, lw=2)
        ty = 1.05
    for tt, lab in ((p_time, 'P'), (s_time, 'S')):
        ax.text(tt, ty, lab, color=PSBLUE, ha='center', va='center', fontsize=13,
                clip_on=False)
    return ax


def spectrum(y0, y1):
    ax = fig.add_axes(box(1410, y0, 2254, y1))
    ax.set_xscale('log')
    ax.set_yscale('log')
    ax.set_xlim(0.01, 60.4)
    ax.set_ylim(0.1, 3000)
    ax.xaxis.set_major_locator(FixedLocator([0.01, 0.1, 1, 10]))
    ax.yaxis.set_major_locator(FixedLocator([0.1, 1, 10, 100, 1000]))
    xminor = [k * 10.0 ** d for d in (-2, -1, 0, 1) for k in range(2, 10) if k * 10.0 ** d < 60]
    yminor = [k * 10.0 ** d for d in (-1, 0, 1, 2) for k in range(2, 10)]
    ax.xaxis.set_minor_locator(FixedLocator(xminor))
    ax.yaxis.set_minor_locator(FixedLocator(yminor))
    ax.xaxis.set_minor_formatter(NullFormatter())
    ax.yaxis.set_minor_formatter(NullFormatter())
    ax.set_xticklabels(['0.01', '0.10', '1.00', '10.00'], ha='left')
    ax.set_yticklabels(['0.10', '1.00', '10.00', '100.00', '1000.00'])
    ax.grid(which='major', color='k', lw=1.0)
    ax.grid(which='minor', color=GRID, ls=DOT, lw=0.9)
    ax.tick_params(which='major', length=0)
    ax.tick_params(axis='x', which='major', labelsize=15, pad=7)
    ax.tick_params(axis='y', which='major', labelsize=11, pad=11)
    ax.tick_params(axis='y', which='minor', direction='in', length=7, width=1,
                   left=True, right=True)
    ax.tick_params(axis='x', which='minor', length=0)
    for s in ax.spines.values():
        s.set_linewidth(1.2)
    return ax


def legend_item(xt, xl0, xl1, y, label, color, lw=1.5):
    ftext(xt, y, label, ha='left', fontsize=10, color='#333333', family='DejaVu Sans Mono')
    fig.add_artist(Line2D([xl0 / W, xl1 / W], [1 - y / H, 1 - y / H],
                          transform=fig.transFigure, color=color, lw=lw))


# ---------------- titles ----------------
ftext(368, 43, date_text, ha='center', fontsize=20.5)
ftext(949, 42, station, ha='center', fontsize=22.5, fontweight='bold')

# ---------------- time axes ----------------
time_axis(109, 130, top=True)
time_axis(1526, 1547, top=False)

# ---------------- waveforms ----------------
t, v = uniform(acc_t0, acc_dt, acc_ns)
wave(164, 261, 160, t, v, '加速度NS', 160, 'gal', base_lw=2.2)
t, v = uniform(acc_t0, acc_dt, acc_ew)
wave(279, 375, 160, t, v, 'EW', 274, 'gal', base_lw=2.2)
t, v = uniform(acc_t0, acc_dt, acc_ud)
wave(393, 490, 160, t, v, 'UD', 389, 'gal', base_lw=2.2)

t, v = uniform(vel_t0, vel_dt, vel_ns)
wave(528, 619, 25, t, v, '速度NS', 521, 'cm/sec', base_lw=1.2)
t, v = uniform(vel_t0, vel_dt, vel_ew)
wave(643, 734, 25, t, v, 'EW', 636, 'cm/sec', base_lw=1.2)
t, v = uniform(vel_t0, vel_dt, vel_ud)
wave(757, 849, 25, t, v, 'UD', 751, 'cm/sec', base_lw=1.2)

tail_t = tail_t0 + tail_dt * np.arange(len(disp_ns_tail))
wave(905, 960, 2, np.r_[disp_ns_t, tail_t], np.r_[disp_ns, disp_ns_tail], '変位NS', 882, 'cm')
wave(1021, 1075, 2, np.r_[disp_ew_t, tail_t], np.r_[disp_ew, disp_ew_tail], 'EW', 997, 'cm')
wave(1134, 1189, 2, np.r_[disp_ud_t, tail_t], np.r_[disp_ud, disp_ud_tail], 'UD', 1111, 'cm')

# ---------------- intensity ----------------
iax = fig.add_axes(box(112, 1257, 1322, 1515))
iax.set_xlim(0, 300)
iax.set_ylim(0, 7)
for yy in range(8):
    iax.axhline(yy, color=GRID, ls=DOT, lw=1)
iax.plot(int_t, int_v, color='k', lw=2.6, clip_on=False)
for s in ('top', 'bottom'):
    iax.spines[s].set_visible(False)
for s in ('left', 'right'):
    iax.spines[s].set_linewidth(1.3)
iax.set_xticks([])
iax.set_yticks(range(8))
iax.tick_params(axis='y', direction='in', length=12, width=1.8, left=True, right=True,
                labelsize=14, pad=10)
ftext(111, 1237, f"震度（参考値）：{shindo:.2f}", ha='left', fontsize=18.5)

# ---------------- Fourier spectrum ----------------
fax = spectrum(126, 729)
fax.plot(four_ns_T, four_ns_A, color=RED, lw=1.5)
fax.plot(four_ew_T, four_ew_A, color=GREEN, lw=1.5)
fax.plot(four_ud_T, four_ud_A, color=BLUE, lw=1.5)
ftext(1373, 103, 'cm/sec(gal·sec)', ha='left', fontsize=10.5)
ftext(1832, 91, 'フーリエスペクトル', ha='center', fontsize=22.5)
ftext(2017, 95, '0.4Hz band smoothing', ha='left', fontsize=15)
ftext(2182, 757, 'sec', ha='center', fontsize=14)
legend_item(1658, 1690, 1752, 779, 'NS', RED)
legend_item(1793, 1829, 1890, 779, 'EW', GREEN)
legend_item(1932, 1967, 2028, 779, 'UD', BLUE)

# ---------------- response spectrum ----------------
rax = spectrum(912, 1514)
rax.plot(resp_ns_T, resp_ns_A, color=RED, lw=1.5)
rax.plot(resp_ew_T, resp_ew_A, color=GREEN, lw=1.5)
rax.plot(resp_ud_T, resp_ud_A, color=BLUE, lw=1.5)
rax.plot(resp_h_T, resp_h_A, color='k', lw=2.6)
ftext(1373, 890, 'cm/sec', ha='left', fontsize=10.5)
ftext(1820, 876, '相対速度応答スペクトル', ha='center', fontsize=22.5)
ftext(2185, 880, 'h=5%', ha='left', fontsize=15)
ftext(2182, 1543, 'sec', ha='center', fontsize=14)
legend_item(1567, 1600, 1661, 1564, 'NS', RED)
legend_item(1723, 1759, 1821, 1564, 'EW', GREEN)
legend_item(1886, 1918, 1980, 1564, 'UD', BLUE)
legend_item(2008, 2079, 2141, 1564, 'Horizon', 'k', lw=3)

fig.savefig('out.png', dpi=100)
